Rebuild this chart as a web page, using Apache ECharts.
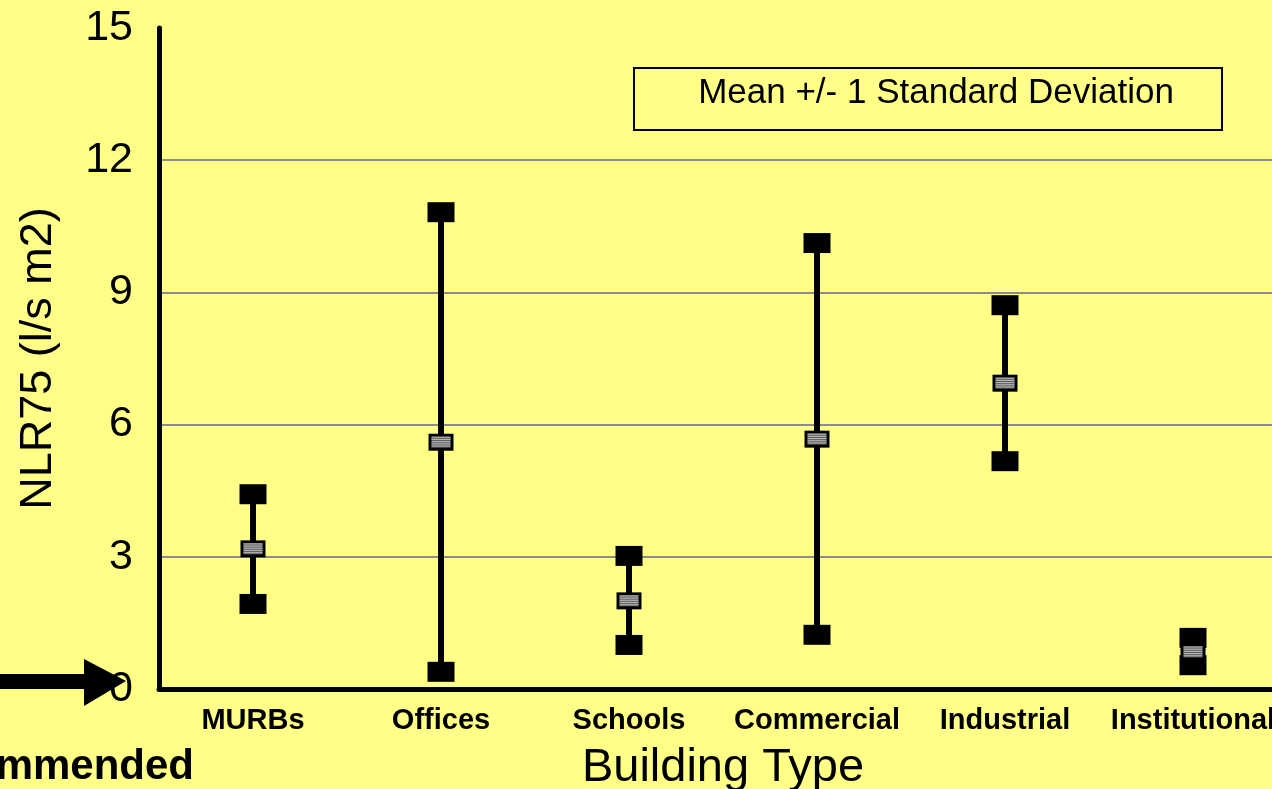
<!DOCTYPE html>
<html>
<head>
<meta charset="utf-8">
<script src="https://cdn.jsdelivr.net/npm/echarts@6/dist/echarts.min.js"></script>
<style>
html,body{margin:0;padding:0;background:#FFFF88;}
#c{width:1272px;height:789px;}
</style>
</head>
<body>
<div id="c"></div>
<script>
// ---- data ----
const categories = ['MURBs', 'Offices', 'Schools', 'Commercial', 'Industrial', 'Institutional'];
const lowValues  = [1.93, 0.39, 1.00, 1.23, 5.17, 0.54];
const meanValues = [3.18, 5.60, 2.00, 5.67, 6.94, 0.84];
const highValues = [4.42, 10.82, 3.02, 10.12, 8.71, 1.16];
const yTicks = [0, 3, 6, 9, 12, 15];
const yAxisTitle = 'NLR75 (l/s m2)';
const xAxisTitle = 'Building Type';
const legendText = 'Mean +/- 1 Standard Deviation';
const sideNote = 'Recommended';

const seriesData = categories.map((c, i) => [i, lowValues[i], meanValues[i], highValues[i]]);

const chart = echarts.init(document.getElementById('c'), null, {renderer: 'canvas'});
const FONT = 'Liberation Sans, Arial, sans-serif';

function renderItem(params, api) {
  const x = api.value(0);
  const lo = api.coord([x, api.value(1)]);
  const mn = api.coord([x, api.value(2)]);
  const hi = api.coord([x, api.value(3)]);
  const sqW = 27, sqH = 20;
  const mW = 25, mH = 17;
  const children = [
    {type: 'line', shape: {x1: hi[0], y1: hi[1], x2: lo[0], y2: lo[1]}, style: {stroke: '#000', lineWidth: 6}},
    {type: 'rect', shape: {x: hi[0] - sqW / 2, y: hi[1] - sqH / 2, width: sqW, height: sqH}, style: {fill: '#000'}},
    {type: 'rect', shape: {x: lo[0] - sqW / 2, y: lo[1] - sqH / 2, width: sqW, height: sqH}, style: {fill: '#000'}},
    {type: 'rect', shape: {x: mn[0] - mW / 2, y: mn[1] - mH / 2, width: mW, height: mH}, style: {fill: '#000'}},
    {type: 'rect', shape: {x: mn[0] - mW / 2 + 3, y: mn[1] - mH / 2 + 3, width: mW - 6, height: mH - 6}, style: {fill: '#5c5c5c'}}
  ];
  for (let k = 0; k < 5; k++) {
    const yy = mn[1] - mH / 2 + 3.5 + k * 2.2;
    children.push({type: 'line', shape: {x1: mn[0] - mW / 2 + 3, y1: yy, x2: mn[0] + mW / 2 - 3, y2: yy}, style: {stroke: '#b4b4b4', lineWidth: 1.2}});
  }
  return {type: 'group', children: children};
}

const option = {
  backgroundColor: '#FFFF88',
  animation: false,
  grid: {left: 159, top: 28, bottom: 100, width: 1128, containLabel: false, outerBoundsMode: 'none'},
  xAxis: {
    type: 'category',
    data: categories,
    boundaryGap: true,
    axisLine: {show: true, lineStyle: {color: '#000', width: 5}},
    axisTick: {show: false},
    axisLabel: {color: '#000', fontFamily: FONT, fontWeight: 'bold', fontSize: 29, margin: 17, interval: 0},
    splitLine: {show: false},
    name: xAxisTitle,
    nameLocation: 'middle',
    nameGap: 56,
    nameTextStyle: {color: '#000', fontFamily: FONT, fontSize: 47}
  },
  yAxis: {
    type: 'value',
    min: 0, max: 15, interval: 3,
    axisLine: {show: true, lineStyle: {color: '#000', width: 5}},
    axisTick: {show: false},
    axisLabel: {color: '#000', fontFamily: FONT, fontSize: 43, margin: 26,
      formatter: v => (yTicks.indexOf(v) >= 0 ? String(v) : '')},
    splitLine: {show: true, showMaxLine: false, lineStyle: {color: '#8c8c8c', width: 2}},
    name: yAxisTitle,
    nameLocation: 'middle',
    nameGap: 98,
    nameRotate: 90,
    nameTextStyle: {color: '#000', fontFamily: FONT, fontSize: 45}
  },
  series: [{
    type: 'custom',
    renderItem: renderItem,
    encode: {x: 0, y: [1, 2, 3]},
    data: seriesData,
    z: 5
  }],
  graphic: [
    {type: 'rect', left: 0, top: 674, shape: {width: 86, height: 15}, style: {fill: '#000'}, z: 1},
    {type: 'polygon', shape: {points: [[84, 659], [126, 681], [84, 706]]}, style: {fill: '#000'}, z: 1},
    {type: 'rect', shape: {x: 634, y: 68, width: 588, height: 62}, style: {fill: 'none', stroke: '#000', lineWidth: 2}, z: 10},
    {type: 'text', x: 936, y: 93, style: {text: legendText, fill: '#000', font: '35px ' + FONT, align: 'center', verticalAlign: 'middle'}, z: 10},
    {type: 'text', x: 194, y: 767, style: {text: sideNote, fill: '#000', font: 'bold 42px ' + FONT, align: 'right', verticalAlign: 'middle'}, z: 10}
  ]
};
chart.setOption(option);
</script>
</body>
</html>
